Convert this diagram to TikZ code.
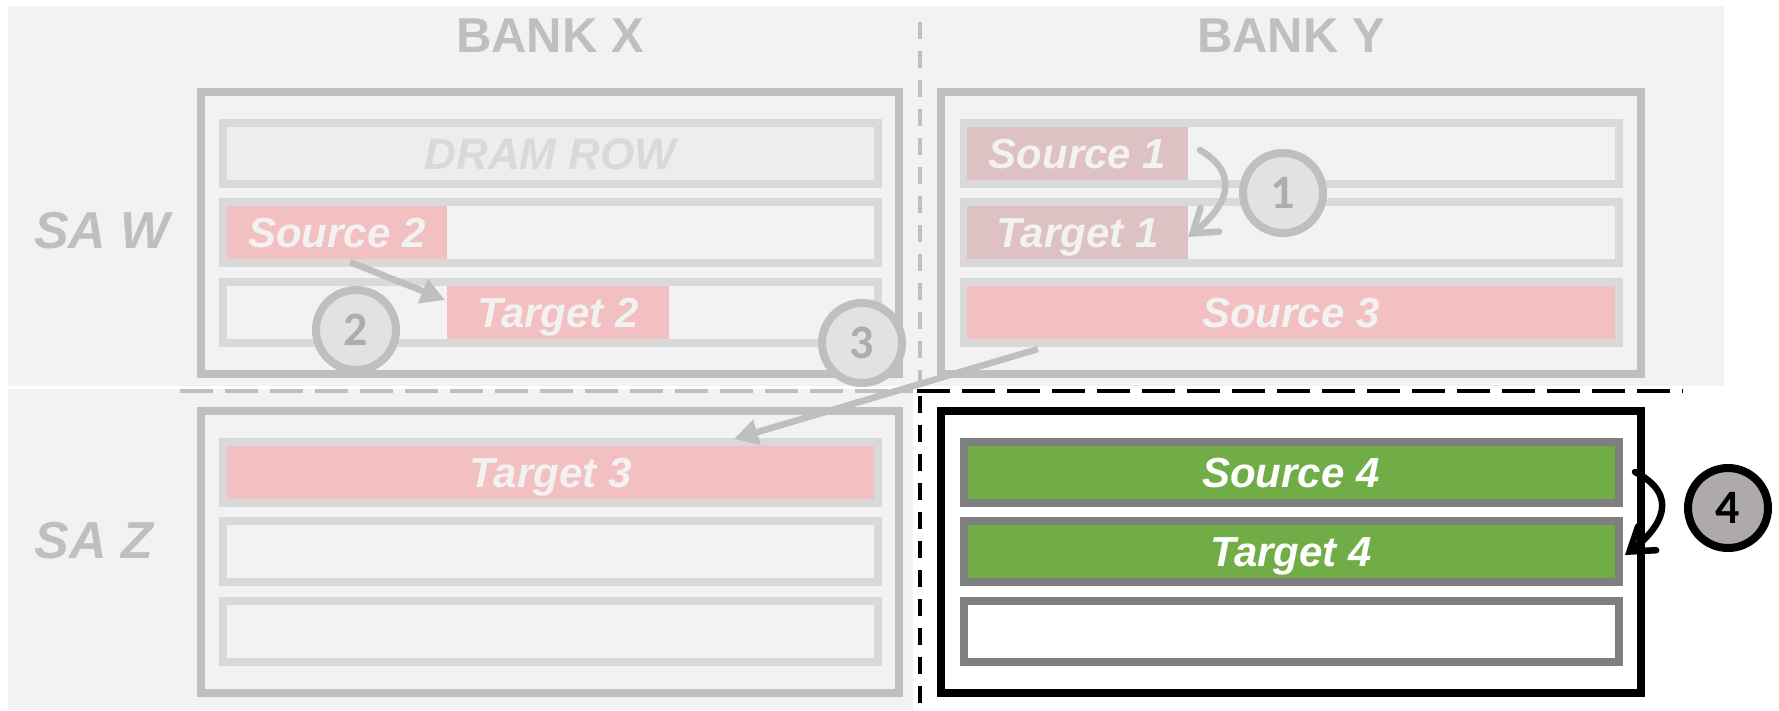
\documentclass[tikz,border=0pt]{standalone}
\usepackage{fontspec}
\setmainfont{Liberation Sans}
\newfontfamily\digitfont{Carlito}
\usetikzlibrary{arrows.meta}
\definecolor{bg}{HTML}{F2F2F2}
\definecolor{boxgray}{HTML}{BFBFBF}
\definecolor{rowgray}{HTML}{D9D9D9}
\definecolor{dramfill}{HTML}{EDEDED}
\definecolor{pinkfill}{HTML}{F2C0C0}
\definecolor{dustyfill}{HTML}{DDC1C3}
\definecolor{greenfill}{HTML}{70AD47}
\definecolor{darkrow}{HTML}{7F7F7F}
\definecolor{circfill}{HTML}{E2E2E2}
\definecolor{digitgray}{HTML}{ADADAD}
\definecolor{circdark}{HTML}{AEAAAA}
\tikzset{
  bankbox/.style={rectangle, draw=boxgray, line width=8pt, fill=bg, minimum width=698pt, minimum height=282pt, inner sep=0pt},
  rowbox/.style={rectangle, draw=rowgray, line width=8pt, fill=bg, minimum width=655pt, minimum height=61pt, inner sep=0pt},
  darkrowbox/.style={rowbox, draw=darkrow},
  hlbox/.style={rectangle, inner sep=0pt, minimum height=53pt, text=bg, font=\fontsize{42}{50}\selectfont\bfseries\itshape, text height=30pt, text depth=0pt},
  rowlabel/.style={text=white, font=\fontsize{42}{50}\selectfont\bfseries\itshape, text height=30pt, text depth=0pt},
  banktitle/.style={text=boxgray, inner sep=0pt, font=\fontsize{49}{58}\selectfont\bfseries, text height=35pt, text depth=0pt},
  satitle/.style={text=boxgray, inner sep=0pt, font=\fontsize{52}{60}\selectfont\bfseries\itshape, text height=37pt, text depth=0pt},
  stepcirc/.style={circle, line width=8pt, minimum size=80pt, inner sep=0pt, draw=boxgray, fill=circfill, text=digitgray, font=\digitfont\fontsize{48}{56}\selectfont\bfseries},
  graydash/.style={draw=boxgray, line width=4pt},
  blackdash/.style={draw=black, line width=4pt},
  grayarrow/.style={draw=boxgray, line width=6.5pt, -{Triangle[length=24pt,width=25pt]}},
  barbarrow/.style={line width=6.5pt, line cap=round, -{Straight Barb[length=22pt,width=30pt,line cap=round]}}
}
\begin{document}
\begin{tikzpicture}[x=1pt,y=-1pt]
\useasboundingbox (0,0) rectangle (1779,710);
% backgrounds
\fill[bg] (8,6) rectangle (1724,386);
\fill[bg] (8,389) rectangle (913,710);
% bank boxes
\node[bankbox] (bxu) at (550,233) {};
\node[bankbox, minimum width=700pt] (byu) at (1291,233) {};
\node[bankbox] (bxl) at (550,552) {};
\node[bankbox, minimum width=700pt, draw=black, fill=white] (byl) at (1291,552) {};
% dashed separators
\coordinate (hg1) at (180,391);
\coordinate (hg2) at (913,391);
\coordinate (hb1) at (917,391);
\coordinate (hb2) at (1683,391);
\coordinate (vg1) at (920,22);
\coordinate (vg2) at (920,386);
\coordinate (vb1) at (920,396);
\coordinate (vb2) at (920,710);
\draw[graydash, dash pattern=on 33pt off 12pt] (hg1) -- (hg2);
\draw[blackdash, dash pattern=on 33pt off 12pt] (hb1) -- (hb2);
\draw[graydash, dash pattern=on 17pt off 12pt] (vg1) -- (vg2);
\draw[blackdash, dash pattern=on 17pt off 12pt] (vb1) -- (vb2);
% titles
\node[banktitle] (tx) at (550,35) {BANK X};
\node[banktitle] (ty) at (1291,35) {BANK Y};
\node[satitle] (saw) at (102,230) {SA W};
\node[satitle] (saz) at (94,540) {SA Z};
% rows bank X upper
\node[rowbox, fill=dramfill, text=rowgray, font=\fontsize{44}{52}\selectfont\bfseries\itshape, text height=32pt, text depth=0pt] (xu1) at (550.5,153.5) {DRAM ROW};
\node[rowbox] (xu2) at (550.5,232.5) {};
\node[rowbox] (xu3) at (550.5,312.5) {};
% rows bank Y upper
\node[rowbox] (yu1) at (1291,153.5) {};
\node[rowbox] (yu2) at (1291,232.5) {};
\node[rowbox] (yu3) at (1291,312.5) {};
% rows bank X lower
\node[rowbox] (xl1) at (550.5,472.5) {};
\node[rowbox] (xl2) at (550.5,551.5) {};
\node[rowbox] (xl3) at (550.5,631.5) {};
% rows bank Y lower
\node[darkrowbox, fill=greenfill, rowlabel] (yl1) at (1291,472.5) {Source 4};
\node[darkrowbox, fill=greenfill, rowlabel] (yl2) at (1291,551.5) {Target 4};
\node[darkrowbox, fill=white] (yl3) at (1291,631.5) {};
% highlighted row parts
\node[hlbox, fill=pinkfill, minimum width=220pt] (src2) at (337,232.5) {Source 2};
\node[hlbox, fill=pinkfill, minimum width=222pt] (tgt2) at (558,312.5) {Target 2};
\node[hlbox, fill=dustyfill, minimum width=221pt] (src1) at (1077.5,153.5) {Source 1};
\node[hlbox, fill=dustyfill, minimum width=221pt] (tgt1) at (1077.5,232.5) {Target 1};
\node[hlbox, fill=pinkfill, minimum width=648pt] (src3) at (1291,312.5) {Source 3};
\node[hlbox, fill=pinkfill, minimum width=647pt] (tgt3) at (550.5,472.5) {Target 3};
% step circles
\node[stepcirc] (c1) at (1283,193) {1};
\node[stepcirc] (c2) at (356,330) {2};
\node[stepcirc] (c3) at (862,343) {3};
\node[stepcirc, draw=black, fill=circdark, text=black] (c4) at (1728,508) {4};
% arrows
\coordinate (a1s) at (1200,150);
\coordinate (a1e) at (1188,237);
\coordinate (a2s) at (350,262);
\coordinate (a2e) at (445,300);
\coordinate (a3s) at (1038,349);
\coordinate (a3e) at (734,439);
\coordinate (a4s) at (1635,472);
\coordinate (a4e) at (1625,555);
\draw[barbarrow, draw=boxgray] (a1s) .. controls (1242,175) and (1226,207) .. (a1e);
\draw[grayarrow] (a2s) -- (a2e);
\draw[grayarrow] (a3s) -- (a3e);
\draw[barbarrow, draw=black] (a4s) .. controls (1680,495) and (1662,527) .. (a4e);
\end{tikzpicture}
\end{document}
